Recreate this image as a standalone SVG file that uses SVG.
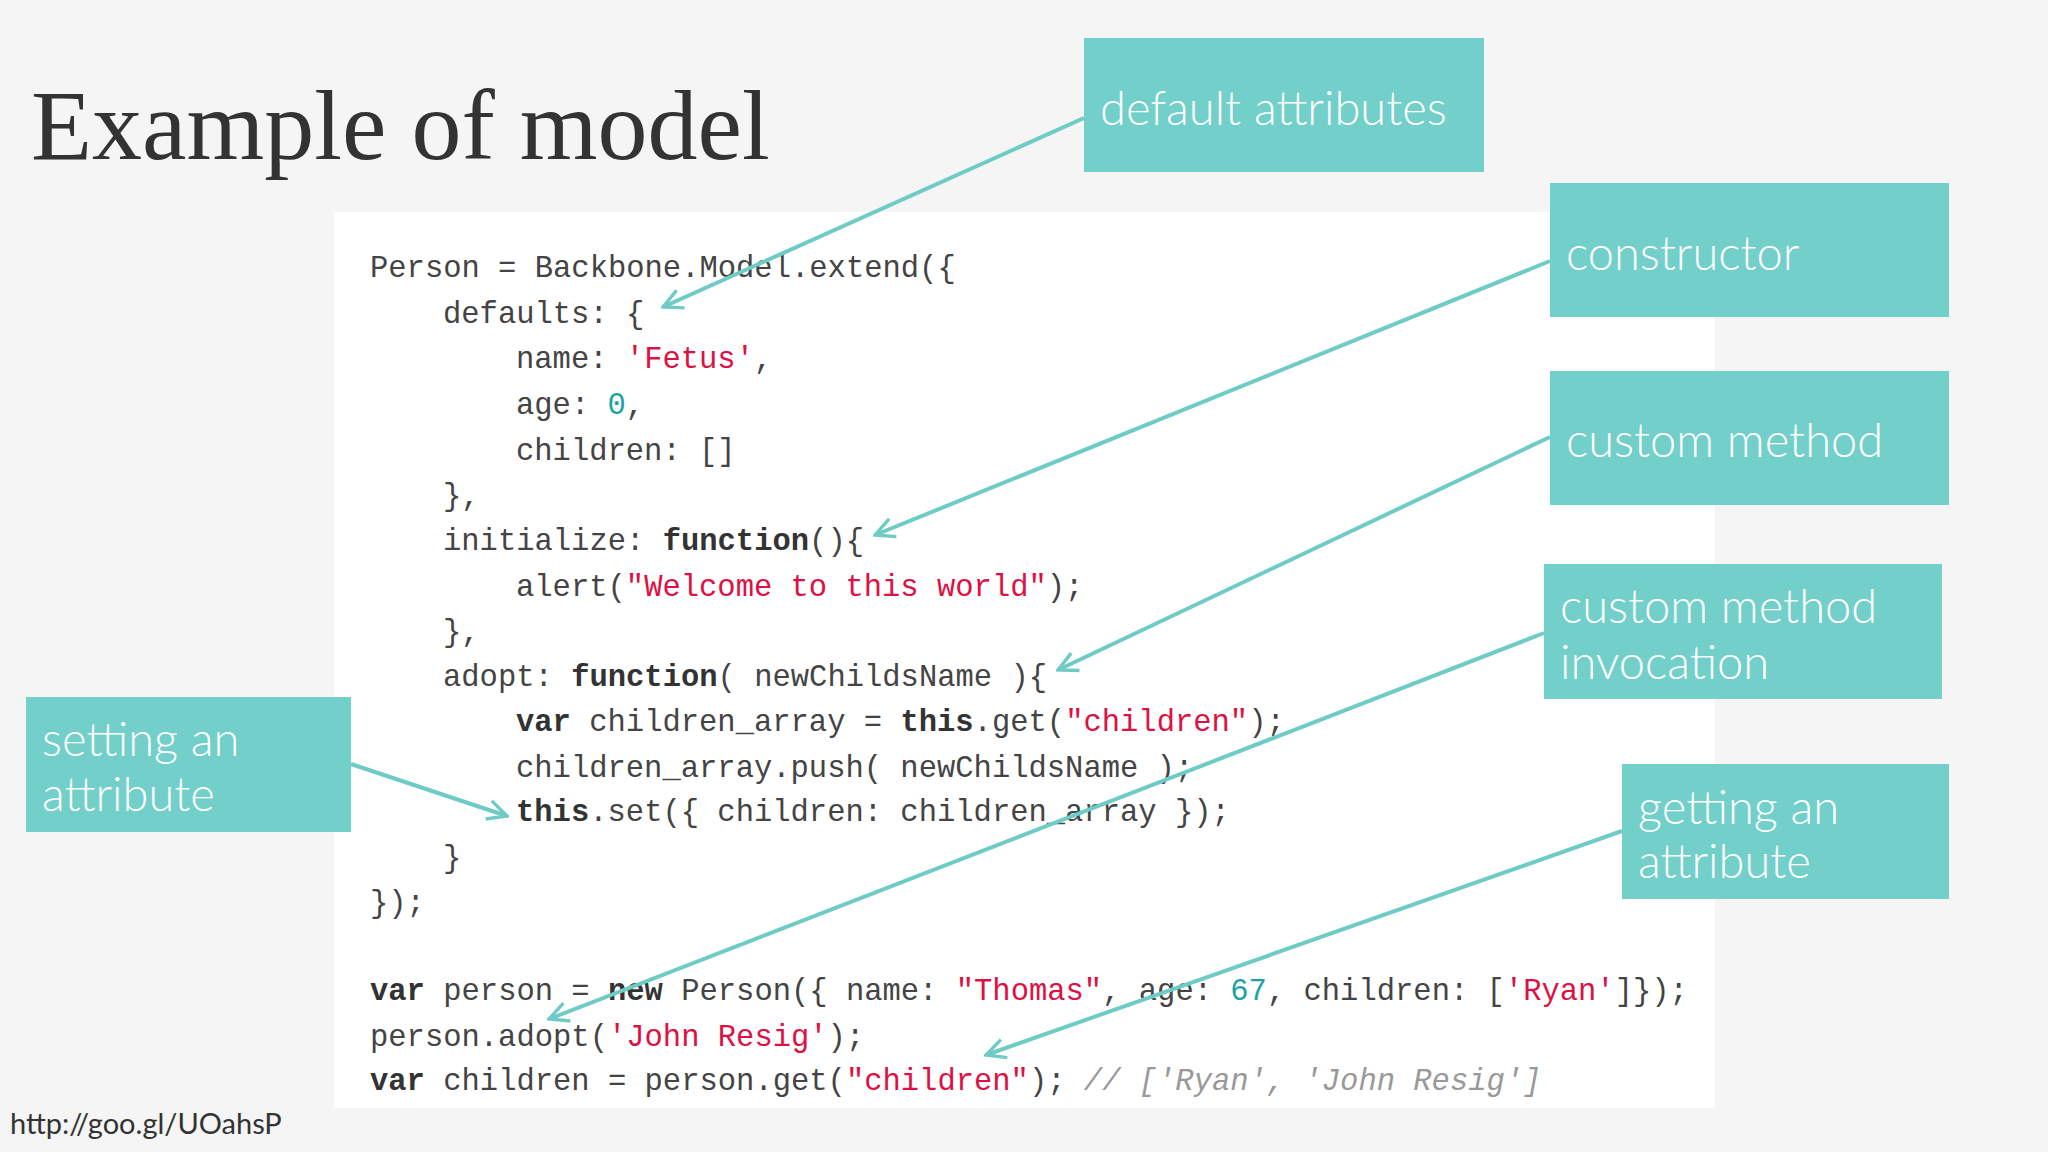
<svg xmlns="http://www.w3.org/2000/svg" width="2048" height="1152" viewBox="0 0 2048 1152">
<style>
.code{font-family:"Liberation Mono",monospace;font-size:30.5px;fill:#444}
.s{fill:#d14}
.n{fill:#1aa3a3}
.b{font-weight:bold;fill:#333}
.c{fill:#999;font-style:italic}
.box{fill:#72cfc9}
.lbl{font-family:Lato,"Open Sans",sans-serif;font-weight:300;font-size:47px;fill:#fff}
.arr{stroke:#6ecbc5;stroke-width:4;fill:none}
</style>
<defs>
<marker id="ah" viewBox="0 0 20 20" refX="18" refY="10" markerWidth="7" markerHeight="7" orient="auto" markerUnits="userSpaceOnUse">
</marker>
<marker id="v" viewBox="0 0 10 10" refX="9" refY="5" markerWidth="6" markerHeight="6" orient="auto">
<path d="M1,1 L9,5 L1,9" fill="none" stroke="#6ecbc5" stroke-width="1.4"/>
</marker>
</defs>
<rect width="2048" height="1152" fill="#f5f5f5"/>
<text x="31" y="159" font-family="Liberation Serif,serif" font-size="100" fill="#333">Example of model</text>
<rect x="334" y="212" width="1381" height="896" fill="#fff"/>
<g class="code" xml:space="preserve">
<text x="370" y="277">Person = Backbone.Model.extend({</text>
<text x="443" y="323">defaults: {</text>
<text x="516" y="368">name: <tspan class="s">'Fetus'</tspan>,</text>
<text x="516" y="414">age: <tspan class="n">0</tspan>,</text>
<text x="516" y="460">children: []</text>
<text x="443" y="505">},</text>
<text x="443" y="550">initialize: <tspan class="b">function</tspan>(){</text>
<text x="516" y="596">alert(<tspan class="s">"Welcome to this world"</tspan>);</text>
<text x="443" y="641">},</text>
<text x="443" y="686">adopt: <tspan class="b">function</tspan>( newChildsName ){</text>
<text x="516" y="731"><tspan class="b">var</tspan> children_array = <tspan class="b">this</tspan>.get(<tspan class="s">"children"</tspan>);</text>
<text x="516" y="777">children_array.push( newChildsName );</text>
<text x="516" y="821"><tspan class="b">this</tspan>.set({ children: children_array });</text>
<text x="443" y="867">}</text>
<text x="370" y="912">});</text>
<text x="370" y="1000"><tspan class="b">var</tspan> person = <tspan class="b">new</tspan> Person({ name: <tspan class="s">"Thomas"</tspan>, age: <tspan class="n">67</tspan>, children: [<tspan class="s">'Ryan'</tspan>]});</text>
<text x="370" y="1046">person.adopt(<tspan class="s">'John Resig'</tspan>);</text>
<text x="370" y="1090"><tspan class="b">var</tspan> children = person.get(<tspan class="s">"children"</tspan>); <tspan class="c">// ['Ryan', 'John Resig']</tspan></text>
</g>
<g id="n-default"><rect class="box" x="1084" y="38" width="400" height="134"/><text class="lbl" x="1100" y="125">default attributes</text></g>
<g id="n-constructor"><rect class="box" x="1550" y="183" width="399" height="134"/><text class="lbl" x="1566" y="270">constructor</text></g>
<g id="n-custom"><rect class="box" x="1550" y="371" width="399" height="134"/><text class="lbl" x="1566" y="457">custom method</text></g>
<g id="n-invoke"><rect class="box" x="1544" y="564" width="398" height="135"/><text class="lbl" x="1560" y="623">custom method</text><text class="lbl" x="1560" y="679">invocation</text></g>
<g id="n-set"><rect class="box" x="26" y="697" width="325" height="135"/><text class="lbl" x="42" y="756">setting an</text><text class="lbl" x="42" y="811">attribute</text></g>
<g id="n-get"><rect class="box" x="1622" y="764" width="327" height="135"/><text class="lbl" x="1638" y="824">getting an</text><text class="lbl" x="1638" y="878">attribute</text></g>
<g id="connectors" class="arr" marker-end="url(#v)">
<line x1="1084" y1="118" x2="663" y2="307" marker-end="url(#v)"/>
<line x1="1550" y1="261" x2="875" y2="535" marker-end="url(#v)"/>
<line x1="1550" y1="437" x2="1058" y2="670" marker-end="url(#v)"/>
<line x1="1544" y1="633" x2="549" y2="1019" marker-end="url(#v)"/>
<line x1="351" y1="764" x2="507" y2="816" marker-end="url(#v)"/>
<line x1="1622" y1="831" x2="986" y2="1055" marker-end="url(#v)"/>
</g>
<text x="10" y="1134" font-family="Lato,sans-serif" font-size="29" fill="#333">http://goo.gl/UOahsP</text>
</svg>
